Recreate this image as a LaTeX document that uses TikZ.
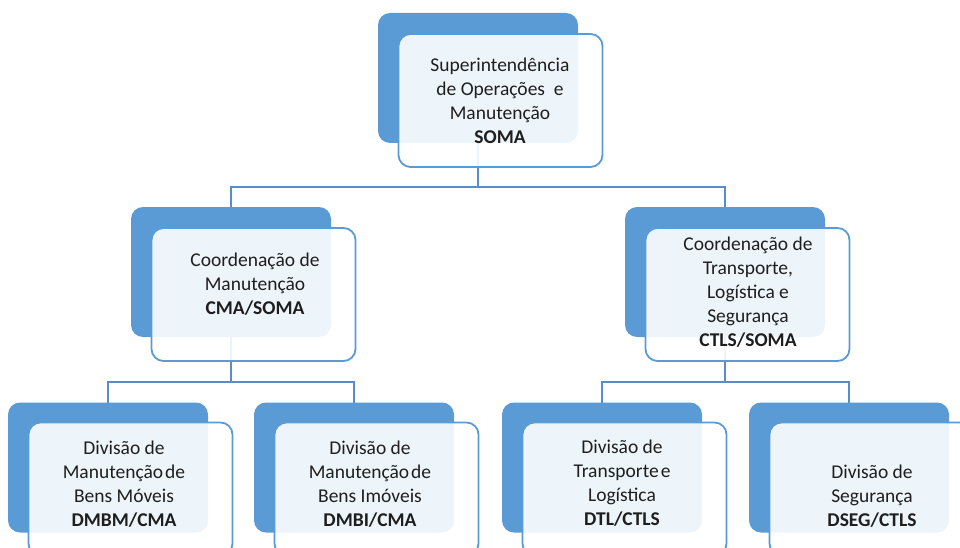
\documentclass[tikz,border=0pt]{standalone}
\usepackage{fontspec}
\setmainfont{Carlito}
\usetikzlibrary{backgrounds}
\definecolor{boxblue}{HTML}{5B9BD5}
\definecolor{linkblue}{HTML}{5A8CC8}
\definecolor{txt}{HTML}{1E1E1E}
\tikzset{
  backbox/.style={draw=none, fill=boxblue, rounded corners=12pt, minimum width=200pt, minimum height=130pt, inner sep=0pt, outer sep=0pt},
  frontbox/.style={draw=boxblue, line width=1.8pt, fill=white, fill opacity=0.9, rounded corners=12pt, minimum width=204pt, minimum height=133pt, inner sep=0pt, outer sep=0pt},
  label/.style={text=txt, align=center, font=\fontsize{19.5}{24}\selectfont, inner sep=0pt},
  link/.style={draw=linkblue, line width=1.8pt}
}
\begin{document}
\begin{tikzpicture}[x=1pt,y=-1pt]
\useasboundingbox (0,0) rectangle (960,548);
% junction coordinates
\coordinate (j1) at (478,187);
\coordinate (j2) at (231,382);
\coordinate (j3) at (725,382);
% back boxes
\node[backbox] (bT) at (478,78) {};
\node[backbox] (bL) at (231,272) {};
\node[backbox] (bR) at (725,272) {};
\node[backbox] (b1) at (108,467.5) {};
\node[backbox] (b2) at (354,467.5) {};
\node[backbox] (b3) at (602,467.5) {};
\node[backbox] (b4) at (849,467.5) {};
% connectors (behind boxes)
\begin{scope}[on background layer]
\draw[link] (bT.center) -- (j1);
\draw[link] (bL.north) |- (j1) -| (bR.north);
\draw[link] (bL.center) -- (j2);
\draw[link] (b1.north) |- (j2) -| (b2.north);
\draw[link] (bR.center) -- (j3);
\draw[link] (b3.north) |- (j3) -| (b4.north);
\end{scope}
% front boxes
\node[frontbox] (fT) at (500.5,100.5) {};
\node[frontbox] (fL) at (253.5,294.5) {};
\node[frontbox] (fR) at (747.5,294.5) {};
\node[frontbox] (f1) at (130.5,489) {};
\node[frontbox] (f2) at (376.5,489) {};
\node[frontbox] (f3) at (624.5,489) {};
\node[frontbox] (f4) at (871.5,489) {};
% texts
\node[label] (tT) at (500,101) {Superintendência\\de Operações~ e\\Manutenção\\\textbf{SOMA}};
\node[label] (tL) at (255,284) {Coordenação de\\Manutenção\\\textbf{CMA/SOMA}};
\node[label] (tR) at (748,292) {Coordenação de\\Transporte,\\Logística e\\Segurança\\\textbf{CTLS/SOMA}};
\node[label] (t1) at (124,484.5) {Divisão de\\Manutenção\hspace{2pt}de\\Bens Móveis\\\textbf{DMBM/CMA}};
\node[label] (t2) at (370,484.5) {Divisão de\\Manutenção\hspace{2pt}de\\Bens Imóveis\\\textbf{DMBI/CMA}};
\node[label] (t3) at (622,483.5) {Divisão de\\Transporte\hspace{2pt}e\\Logística\\\textbf{DTL/CTLS}};
\node[label] (t4) at (872,496) {Divisão de\\Segurança\\\textbf{DSEG/CTLS}};
\end{tikzpicture}
\end{document}
